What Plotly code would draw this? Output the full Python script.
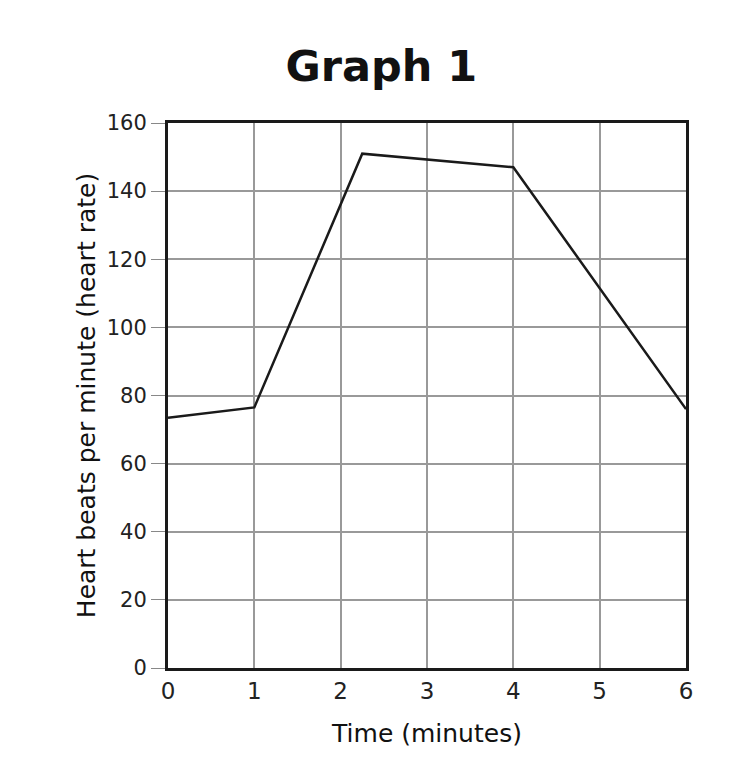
import plotly.graph_objects as go

time_minutes = [0, 1, 2.25, 4, 6]
heart_rate = [73.5, 76.5, 151, 147, 76]
x_ticks = [0, 1, 2, 3, 4, 5, 6]
y_ticks = [0, 20, 40, 60, 80, 100, 120, 140, 160]

fig = go.Figure()
fig.add_trace(go.Scatter(x=time_minutes, y=heart_rate, mode="lines",
                         line=dict(color="#1a1a1a", width=2.5), showlegend=False))

font_family = "DejaVu Sans, Verdana, sans-serif"
fig.update_layout(
    width=735, height=775,
    margin=dict(l=160, r=57, t=115, b=115),
    paper_bgcolor="white", plot_bgcolor="white",
    title=dict(text="<b>Graph 1</b>", x=0.508, xanchor="center", y=0.925, yanchor="middle",
               font=dict(family=font_family, size=43, color="#111")),
    font=dict(family=font_family, color="#111"),
)
fig.update_xaxes(range=[0, 6], tickvals=x_ticks, ticktext=[str(v) for v in x_ticks],
                 showgrid=True, gridcolor="#999999", gridwidth=1.6,
                 showline=True, linecolor="#1a1a1a", linewidth=3, mirror=True,
                 ticks="", tickfont=dict(size=23, color="#222"), zeroline=False,
                 title=dict(text="Time (minutes)", font=dict(size=25, color="#111"), standoff=22))
fig.update_yaxes(range=[0, 160], tickvals=y_ticks, ticktext=[str(v) for v in y_ticks],
                 showgrid=True, gridcolor="#999999", gridwidth=1.6,
                 showline=True, linecolor="#1a1a1a", linewidth=3, mirror=True,
                 ticks="outside", ticklen=14, tickcolor="#888", tickwidth=1,
                 tickfont=dict(size=21, color="#222"), zeroline=False,
                 title=dict(text="Heart beats per minute (heart rate)", font=dict(size=25, color="#111"), standoff=4))
fig.write_html("out.html")
